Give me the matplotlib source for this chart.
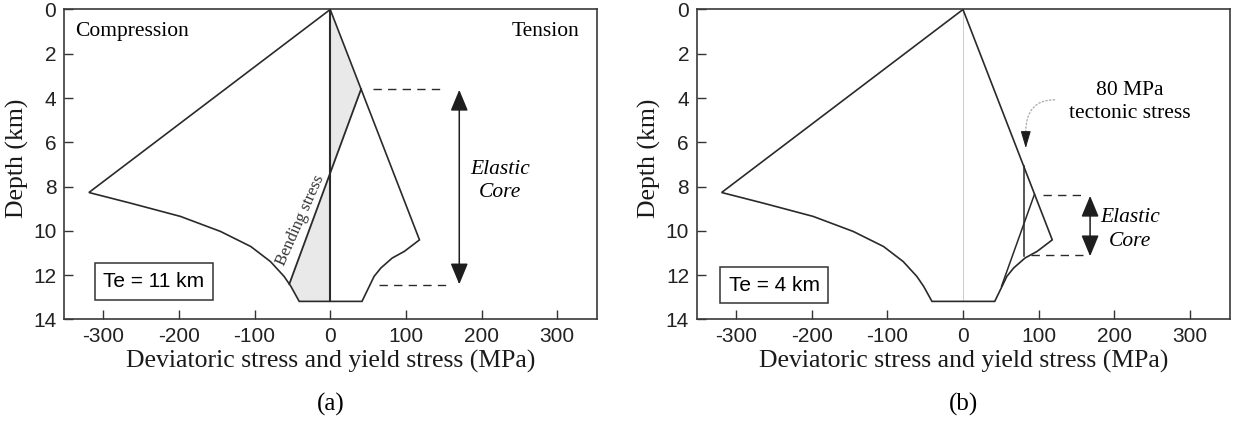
import matplotlib
matplotlib.use("Agg")
import matplotlib.pyplot as plt
import numpy as np

# Yield-stress envelope (shared by both panels): compression branch, then tension branch
comp_stress = [0, -319, -264, -198, -145, -105, -79, -61, -52, -41]
comp_depth = [0, 8.27, 8.75, 9.35, 10.03, 10.71, 11.39, 12.06, 12.51, 13.19]
tens_stress = [42, 58, 67, 82, 98, 118, 0]
tens_depth = [13.19, 12.06, 11.68, 11.23, 10.93, 10.41, 0]

# Panel (a): bending stress, Te = 11 km
bend_a_stress = [40.8, -54]
bend_a_depth = [3.6, 12.4]
core_a_depth = [3.6, 12.45]

# Panel (b): 80 MPa tectonic stress plus bending, Te = 4 km
tectonic = 80
tect_depth = [7.06, 11.12]
bend_b_stress = [94.5, 51]
bend_b_depth = [8.35, 12.5]
core_b_depth = [8.37, 11.1]

x_ticks = [-300, -200, -100, 0, 100, 200, 300]
y_ticks = [0, 2, 4, 6, 8, 10, 12, 14]

SANS = "Liberation Sans"
SERIF = "Liberation Serif"
LINE = "#2a2a2a"

fig = plt.figure(figsize=(12.44, 4.24), dpi=100)
ax_a = fig.add_axes([0.0514, 0.2469, 0.4287, 0.7307])
ax_b = fig.add_axes([0.5600, 0.2469, 0.4288, 0.7307])

env_x = comp_stress + tens_stress
env_z = comp_depth + tens_depth


def style_axes(ax, label):
    ax.set_xlim(-352, 353)
    ax.set_ylim(14, 0)
    ax.set_xticks(x_ticks)
    ax.set_yticks(y_ticks)
    ax.set_xticklabels([str(v) for v in x_ticks], fontfamily=SANS, fontsize=15)
    ax.set_yticklabels([str(v) for v in y_ticks], fontfamily=SANS, fontsize=15)
    ax.tick_params(direction="in", length=6.5, width=1.0, color="#333333",
                   top=False, right=False, pad=5.5, labelcolor="#222222")
    for sp in ax.spines.values():
        sp.set_linewidth(1.2)
        sp.set_color("#3a3a3a")
    ax.set_xlabel("Deviatoric stress and yield stress (MPa)", fontfamily=SERIF,
                  fontsize=18.5, va="top", color="#1a1a1a")
    ax.xaxis.set_label_coords(0.5, -0.098)
    ax.set_ylabel("Depth (km)", fontfamily=SERIF, fontsize=18.5, color="#1a1a1a")
    ax.yaxis.set_label_coords(-0.066, 0.52)
    ax.plot(env_x, env_z, color=LINE, lw=1.2, solid_joinstyle="miter")
    cx = (ax.get_position().x0 + ax.get_position().x1) / 2
    fig.text(cx, 0.045, label, ha="center", va="center", fontfamily=SERIF, fontsize=18)


def core_arrow(ax, x, z0, z1):
    ax.annotate("", xy=(x, z1), xytext=(x, z0),
                arrowprops=dict(arrowstyle="<|-|>,head_length=0.65,head_width=0.27",
                                mutation_scale=20, color="#1e1e1e", lw=1.1,
                                shrinkA=0, shrinkB=0))


# ---------------- panel (a) ----------------
style_axes(ax_a, "(a)")
low = [(s, d) for s, d in zip(comp_stress, comp_depth) if d > bend_a_depth[1]]
shade_x = [0, bend_a_stress[0], bend_a_stress[1]] + [p[0] for p in low] + [0]
shade_z = [0, bend_a_depth[0], bend_a_depth[1]] + [p[1] for p in low] + [comp_depth[-1]]
ax_a.fill(shade_x, shade_z, facecolor="#e9e9e9", edgecolor="none", zorder=1)
ax_a.plot([0, 0], [0, comp_depth[-1]], color=LINE, lw=1.5, zorder=3)
ax_a.plot(bend_a_stress, bend_a_depth, color=LINE, lw=1.3, zorder=3)
ax_a.text(-39.6, 9.54, "Bending stress", rotation=66, rotation_mode="anchor",
          ha="center", va="center", fontfamily=SERIF, fontsize=12, color="#333333")

ax_a.plot([56, 147], [core_a_depth[0]] * 2, color=LINE, lw=1.0, ls=(0, (6, 4.5)))
ax_a.plot([64, 160], [core_a_depth[1]] * 2, color=LINE, lw=1.0, ls=(0, (6, 4.5)))
core_arrow(ax_a, 170.6, 3.63, 12.42)
ax_a.text(225, 7.24, "Elastic", ha="center", va="center", fontfamily=SERIF,
          fontstyle="italic", fontsize=15.5)
ax_a.text(225, 8.29, "Core", ha="center", va="center", fontfamily=SERIF,
          fontstyle="italic", fontsize=15.5)
ax_a.text(-336.6, 1.0, "Compression", ha="left", va="center", fontfamily=SERIF, fontsize=15.5)
ax_a.text(330, 1.0, "Tension", ha="right", va="center", fontfamily=SERIF, fontsize=15.5)
ax_a.text(-233, 12.3, "Te = 11 km", ha="center", va="center", fontfamily=SANS, fontsize=15,
          bbox=dict(boxstyle="square,pad=0.42", facecolor="white", edgecolor="#333333", lw=1.1))

# ---------------- panel (b) ----------------
style_axes(ax_b, "(b)")
ax_b.plot([0, 0], [0, comp_depth[-1]], color="#c4c4c4", lw=0.6, zorder=1)
ax_b.plot([tectonic, tectonic], tect_depth, color=LINE, lw=1.1)
ax_b.plot(bend_b_stress, bend_b_depth, color=LINE, lw=1.1)
ax_b.plot([106, 163], [core_b_depth[0]] * 2, color=LINE, lw=1.0, ls=(0, (6, 4.5)))
ax_b.plot([90, 158], [core_b_depth[1]] * 2, color=LINE, lw=1.0, ls=(0, (6, 4.5)))
core_arrow(ax_b, 168, 8.42, 11.15)
ax_b.text(221, 9.4, "Elastic", ha="center", va="center", fontfamily=SERIF,
          fontstyle="italic", fontsize=15.5)
ax_b.text(221, 10.5, "Core", ha="center", va="center", fontfamily=SERIF,
          fontstyle="italic", fontsize=15.5)
ax_b.text(221, 3.64, "80 MPa", ha="center", va="center", fontfamily=SERIF, fontsize=15.5)
ax_b.text(221, 4.7, "tectonic stress", ha="center", va="center", fontfamily=SERIF, fontsize=15.5)
ax_b.annotate("", xy=(83, 5.55), xytext=(121, 4.08),
              arrowprops=dict(arrowstyle="-", color="#b0b0b0", lw=1.0, ls=":",
                              connectionstyle="angle3,angleA=180,angleB=90",
                              shrinkA=0, shrinkB=0))
ax_b.annotate("", xy=(83, 6.27), xytext=(83, 5.58),
              arrowprops=dict(arrowstyle="-|>,head_length=0.75,head_width=0.22",
                              mutation_scale=14, color="#1e1e1e", lw=0.8,
                              shrinkA=0, shrinkB=0))
ax_b.text(-249.5, 12.45, "Te = 4 km", ha="center", va="center", fontfamily=SANS, fontsize=15,
          bbox=dict(boxstyle="square,pad=0.42", facecolor="white", edgecolor="#333333", lw=1.1))

fig.savefig("out.png", dpi=100)
